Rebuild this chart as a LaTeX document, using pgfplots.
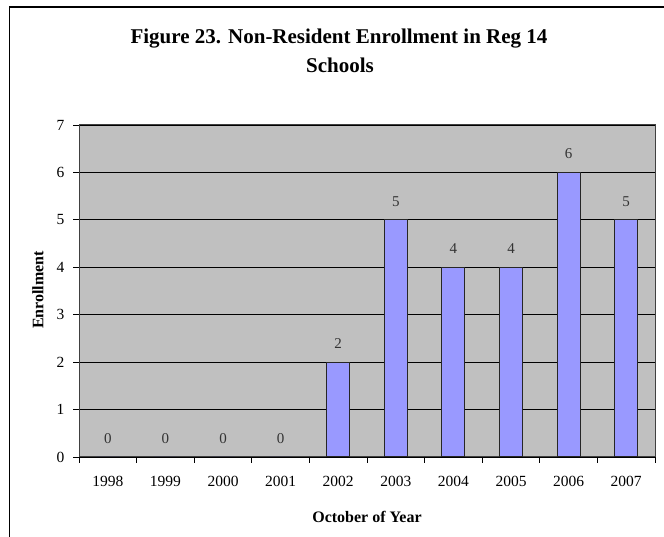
\documentclass[border=0pt]{standalone}
\usepackage{fontspec}
\setmainfont{Liberation Serif}
\usepackage{pgfplots}
\pgfplotsset{compat=1.18}
\definecolor{plotbg}{HTML}{C0C0C0}
\definecolor{barfill}{HTML}{9999FF}
\newcommand{\lblfont}{\fontsize{15.5}{18}\selectfont}
\newcommand{\valfont}{\fontsize{15}{18}\selectfont}
\newcommand{\axtitlefont}{\bfseries\fontsize{16}{19}\selectfont}
\begin{document}
\begin{tikzpicture}
\useasboundingbox (0,0) rectangle (664pt,537pt);
% chart frame
\draw[line width=1.5pt] (9.5pt,0) -- (9.5pt,530pt) -- (664pt,530pt);
% title, two lines
\node[font=\bfseries\fontsize{21}{26}\selectfont, anchor=base] at (339pt,493pt)
  {Figure 23. Non-Resident Enrollment in Reg 14};
\node[font=\bfseries\fontsize{21}{26}\selectfont, anchor=base] at (340pt,464pt)
  {Schools};
\begin{axis}[
  at={(79pt,80pt)}, anchor=south west,
  scale only axis, width=576pt, height=332pt,
  xmin=-0.5, xmax=9.5, ymin=0, ymax=7,
  ybar, bar width=23pt,
  axis background/.style={fill=plotbg},
  axis line style={draw=black!75, line width=1pt},
  ymajorgrids, grid style={black, line width=0.8pt},
  tick align=outside, xtick pos=bottom, ytick pos=left,
  major tick length=6pt, minor tick length=6pt,
  tick style={black, line width=0.8pt},
  ytick={0,...,7},
  xtick={0,...,9},
  xticklabels={1998,1999,2000,2001,2002,2003,2004,2005,2006,2007},
  minor xtick={-0.5,0.5,...,9.5},
  major x tick style={draw=none},
  ticklabel style={font=\lblfont},
  xticklabel style={yshift=-9.5pt},
  yticklabel style={xshift=-5pt},
  /pgf/number format/assume math mode=true,
  nodes near coords,
  every node near coord/.append style={font=\valfont, color=black!80, anchor=south, inner sep=0pt, yshift=13pt},
]
\addplot[fill=barfill, draw=black!85, line width=1pt] coordinates {
  (0,0) (1,0) (2,0) (3,0) (4,2) (5,5) (6,4) (7,4) (8,6) (9,5)
};
\end{axis}
% axis titles
\node[font=\axtitlefont] at (367pt,20pt) {October of Year};
\node[font=\axtitlefont, rotate=90] at (38pt,247pt) {Enrollment};
\end{tikzpicture}
\end{document}
